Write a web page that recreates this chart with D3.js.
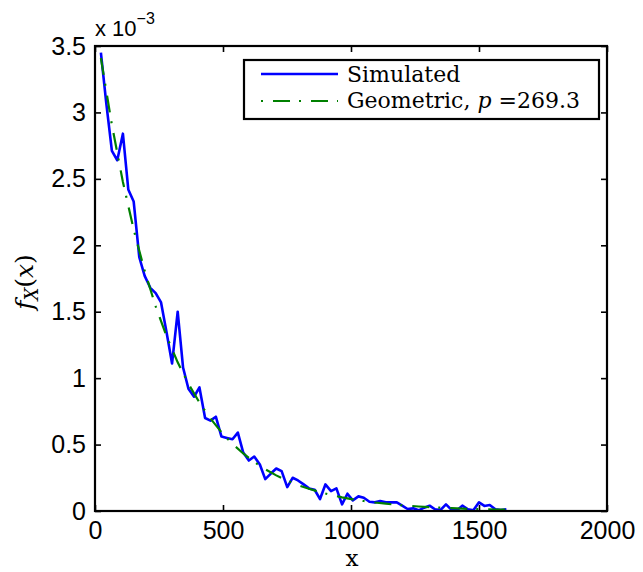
<!DOCTYPE html>
<html>
<head>
<meta charset="utf-8">
<script src="https://cdn.jsdelivr.net/npm/d3@7"></script>
<style>
  body { margin: 0; background: #fff; }
</style>
</head>
<body>
<div id="chart"></div>
<script>
// histogram bin centres (x) and simulated pmf (units of 1e-3)
var binX = [23, 44, 66, 87, 109, 130, 151, 173, 194, 216, 237, 258, 280, 301, 323, 344, 365, 387, 408, 430,
  451, 472, 494, 515, 537, 558, 579, 601, 622, 644, 665, 686, 708, 729, 751, 772, 793, 815, 836, 858,
  879, 900, 922, 943, 965, 986, 1007, 1029, 1050, 1072, 1093, 1114, 1136, 1157, 1179, 1200, 1221, 1243, 1264, 1286,
  1307, 1328, 1350, 1371, 1393, 1414, 1435, 1457, 1478, 1500, 1521, 1542, 1564, 1585, 1607];
var simulated = [3.45, 3.07, 2.71, 2.64, 2.84, 2.42, 2.33, 1.91, 1.77, 1.68, 1.64, 1.57, 1.34, 1.11, 1.50, 1.08,
  0.92, 0.86, 0.93, 0.70, 0.68, 0.71, 0.56, 0.55, 0.54, 0.59, 0.44, 0.38, 0.41, 0.35, 0.24, 0.28, 0.32, 0.30,
  0.18, 0.25, 0.23, 0.20, 0.17, 0.16, 0.09, 0.20, 0.15, 0.17, 0.05, 0.13, 0.08, 0.11, 0.10, 0.07, 0.065, 0.075,
  0.065, 0.065, 0.065, 0.04, 0.015, 0.02, 0.005, 0.025, 0.04, 0.013, 0.008, 0.05, 0.008, 0.005, 0.04, 0.013,
  0.005, 0.065, 0.038, 0.045, 0.013, 0.008, 0.013];

// geometric fit
var geoX = [23, 66, 109, 151, 194, 237, 280, 323, 365, 408, 451, 494, 537, 579, 622, 665, 708, 751, 793, 836,
  879, 922, 965, 1007, 1050, 1093, 1136, 1179, 1221, 1264, 1307, 1350, 1393, 1435, 1478, 1521, 1564, 1607];
var geometric = [3.409, 2.906, 2.477, 2.119, 1.807, 1.540, 1.313, 1.119, 0.957, 0.816, 0.696, 0.593, 0.505, 0.433,
  0.369, 0.314, 0.268, 0.228, 0.195, 0.167, 0.142, 0.121, 0.103, 0.088, 0.075, 0.064, 0.055, 0.047, 0.040,
  0.034, 0.029, 0.025, 0.021, 0.018, 0.015, 0.013, 0.011, 0.0095];

var xTicks = [0, 500, 1000, 1500, 2000];
var yTicks = [0, 0.5, 1, 1.5, 2, 2.5, 3, 3.5];
var legendLabels = ["Simulated", "Geometric, "];

// size of the svg and the plot box
var svgWidth = 643;
var svgHeight = 572;
var margin = { top: 46, right: 36, bottom: 61, left: 95 };
var width = svgWidth - margin.left - margin.right;
var height = svgHeight - margin.top - margin.bottom;

var svg = d3.select("#chart")
  .append("svg")
  .attr("width", svgWidth)
  .attr("height", svgHeight);

var chartGroup = svg.append("g")
  .attr("transform", `translate(${margin.left}, ${margin.top})`);

var xScale = d3.scaleLinear().domain([0, 2000]).range([0, width]);
var yScale = d3.scaleLinear().domain([0, 3.5]).range([height, 0]);

var tickFont = "'Liberation Sans', Arial, sans-serif";

// axes with inward ticks, MATLAB style
var xAxis = d3.axisBottom(xScale).tickValues(xTicks).tickSize(-6).tickPadding(10).tickFormat(d3.format("d"));
var yAxis = d3.axisLeft(yScale).tickValues(yTicks).tickSize(-6).tickPadding(9).tickFormat(d => String(d));

var gx = chartGroup.append("g").attr("transform", `translate(0, ${height})`).call(xAxis);
var gy = chartGroup.append("g").call(yAxis);

// ticks on the top and right sides, no labels
var gxTop = chartGroup.append("g").call(d3.axisTop(xScale).tickValues(xTicks).tickSize(-6).tickFormat(""));
var gyRight = chartGroup.append("g").attr("transform", `translate(${width}, 0)`)
  .call(d3.axisRight(yScale).tickValues(yTicks).tickSize(-6).tickFormat(""));

[gx, gy, gxTop, gyRight].forEach(g => {
  g.select(".domain").remove();
  g.selectAll(".tick line").attr("stroke", "#000").attr("stroke-width", 1.6);
  g.selectAll("text")
    .attr("fill", "#000")
    .style("font-family", tickFont)
    .style("font-size", "25px");
});

// the data lines
var line = d3.line()
  .x(d => xScale(d[0]))
  .y(d => yScale(d[1]));

chartGroup.append("path")
  .datum(binX.map((x, i) => [x, simulated[i]]))
  .attr("d", line)
  .attr("fill", "none")
  .attr("stroke", "#0000ff")
  .attr("stroke-width", 2.6)
  .attr("stroke-linejoin", "round");

chartGroup.append("path")
  .datum(geoX.map((x, i) => [x, geometric[i]]))
  .attr("d", line)
  .attr("fill", "none")
  .attr("stroke", "#008000")
  .attr("stroke-width", 2.2)
  .attr("stroke-dasharray", "17,9,2,10");

// box round the plot
chartGroup.append("rect")
  .attr("width", width)
  .attr("height", height)
  .attr("fill", "none")
  .attr("stroke", "#000")
  .attr("stroke-width", 2.2);

// exponent label
var expText = svg.append("text")
  .attr("x", 95)
  .attr("y", 36)
  .style("font-family", tickFont)
  .style("font-size", "22px")
  .attr("fill", "#000");
expText.append("tspan").text("x 10");
expText.append("tspan").attr("dy", -12).style("font-size", "16px").text("\u22123");

// axis labels
svg.append("text")
  .attr("x", 352)
  .attr("y", 566)
  .attr("text-anchor", "middle")
  .style("font-family", "'DejaVu Serif', serif")
  .style("font-size", "23px")
  .text("x");

var yLab = svg.append("text")
  .attr("transform", "translate(33, 282) rotate(-90)")
  .attr("text-anchor", "middle")
  .style("font-family", "'DejaVu Serif', serif")
  .style("font-size", "25px");
yLab.append("tspan").style("font-style", "italic").text("f");
yLab.append("tspan").attr("dy", 5).style("font-style", "italic").style("font-size", "18px").text("X");
yLab.append("tspan").attr("dy", -5).text("(");
yLab.append("tspan").style("font-style", "italic").text("x");
yLab.append("tspan").text(")");

// legend
var legend = svg.append("g").attr("transform", "translate(244, 60)");
legend.append("rect")
  .attr("width", 355)
  .attr("height", 59)
  .attr("fill", "#fff")
  .attr("stroke", "#000")
  .attr("stroke-width", 2.2);

legend.append("line")
  .attr("x1", 17).attr("x2", 94).attr("y1", 14).attr("y2", 14)
  .attr("stroke", "#0000ff").attr("stroke-width", 2.6);
legend.append("line")
  .attr("x1", 17).attr("x2", 94).attr("y1", 41).attr("y2", 41)
  .attr("stroke", "#008000").attr("stroke-width", 2.2)
  .attr("stroke-dasharray", "2,10,17,9");

legend.append("text")
  .attr("x", 103).attr("y", 22)
  .style("font-family", "'DejaVu Serif', serif")
  .style("font-size", "22px")
  .text(legendLabels[0]);

var geoLabel = legend.append("text")
  .attr("x", 103).attr("y", 48)
  .style("font-family", "'DejaVu Serif', serif")
  .style("font-size", "22px");
geoLabel.append("tspan").text(legendLabels[1]);
geoLabel.append("tspan").style("font-style", "italic").text("p");
geoLabel.append("tspan").text(" =269.3");
</script>
</body>
</html>
